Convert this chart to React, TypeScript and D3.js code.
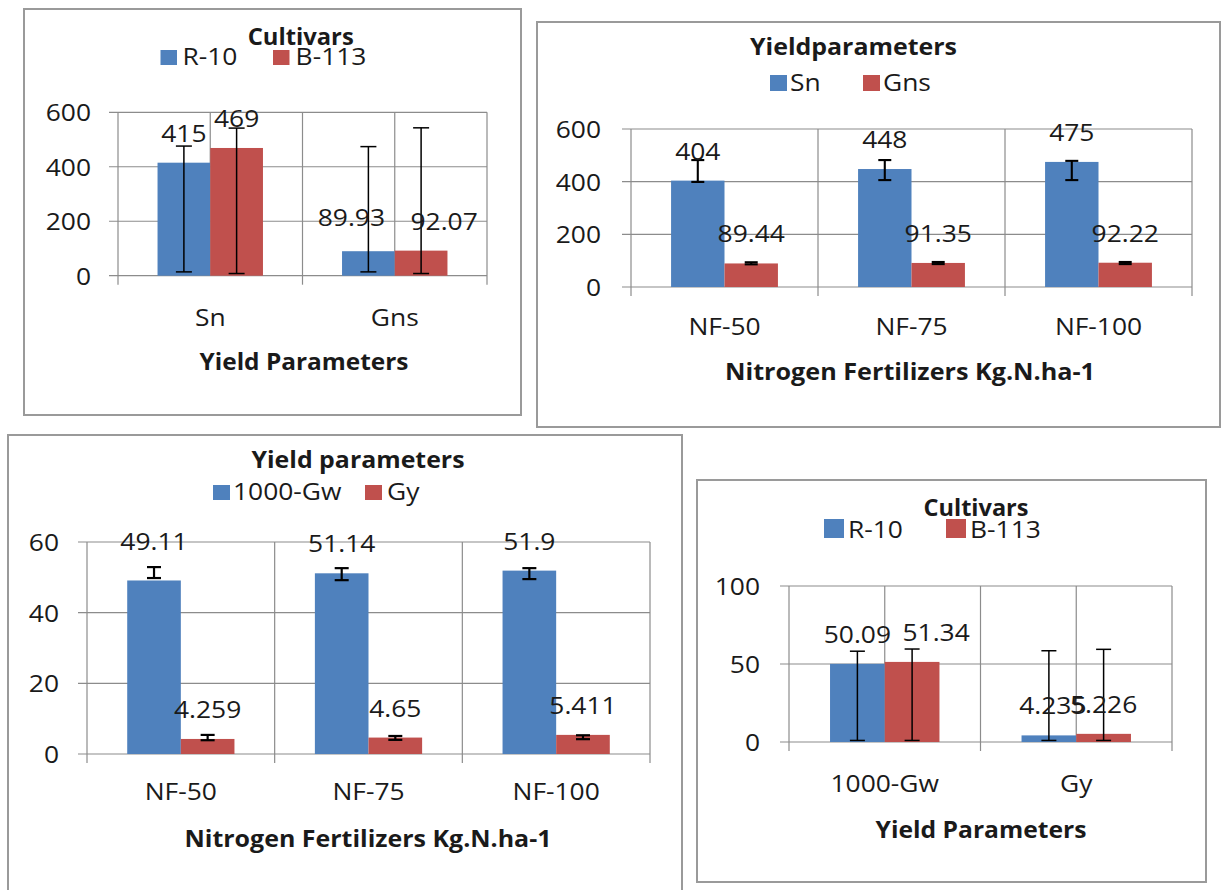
import React from "react";
import * as d3 from "d3";

// ---------- DATA ----------
const cultivars = ["R-10", "B-113"];

// Panel 1: Cultivars x Yield parameters (Sn, Gns)
const p1Categories = ["Sn", "Gns"];
const p1R10 = [415, 89.93];
const p1B113 = [469, 92.07];
const p1R10ErrLow = [14, 14];
const p1R10ErrHigh = [476, 474];
const p1B113ErrLow = [8, 8];
const p1B113ErrHigh = [542, 543];
const p1Ticks = [0, 200, 400, 600];

// Panel 2: Nitrogen fertilizers x (Sn, Gns)
const nfCategories = ["NF-50", "NF-75", "NF-100"];
const p2Series = ["Sn", "Gns"];
const p2Sn = [404, 448, 475];
const p2Gns = [89.44, 91.35, 92.22];
const p2SnErrLow = [399, 406, 406];
const p2SnErrHigh = [482, 482, 479];
const p2GnsErrLow = [86, 87, 87];
const p2GnsErrHigh = [94, 95, 95];
const p2Ticks = [0, 200, 400, 600];

// Panel 3: Nitrogen fertilizers x (1000-Gw, Gy)
const p3Series = ["1000-Gw", "Gy"];
const p3Gw = [49.11, 51.14, 51.9];
const p3Gy = [4.259, 4.65, 5.411];
const p3GwErrLow = [49.8, 49.2, 49.5];
const p3GwErrHigh = [52.9, 52.6, 52.6];
const p3GyErrLow = [3.9, 4.0, 4.2];
const p3GyErrHigh = [5.4, 5.1, 5.3];
const p3Ticks = [0, 20, 40, 60];

// Panel 4: Cultivars x (1000-Gw, Gy)
const p4Categories = ["1000-Gw", "Gy"];
const p4R10 = [50.09, 4.235];
const p4B113 = [51.34, 5.226];
const p4R10ErrLow = [1, 1];
const p4R10ErrHigh = [58.2, 58.5];
const p4B113ErrLow = [1, 1];
const p4B113ErrHigh = [59.6, 59.4];
const p4Ticks = [0, 50, 100];

// ---------- STYLE ----------
const COLORS = ["#4F81BD", "#C0504D"];
const FONT = "'Open Sans', 'DejaVu Sans', sans-serif";
const FS = 24;
const SX = 1.1;
const TXT = "#1a1a1a";
const GRID = "#8c8c8c";

type Cfg = {
  box: [number, number, number, number];
  x0: number; x1: number; yTop: number; yBot: number;
  title: { text: string; x: number; y: number; w: number };
  legend: { y: number; sqW: number; sqH: number; sqX: number[]; tx: number[] };
  tickLabelX: number;
  catLabelY: number;
  axisTitle: { text: string; x: number; y: number; w: number };
  centerLines: boolean;
  errStroke: number;
  capW: number;
  nudge?: Record<string, [number, number]>;
};

function T(props: { x: number; y: number; anchor?: string; children: any; sx?: number }) {
  const { x, y, anchor = "middle", children, sx = SX } = props;
  return (
    <text
      transform={`translate(${x},${y}) scale(${sx},1)`}
      textAnchor={anchor}
      fontFamily={FONT}
      fontSize={FS}
      fill={TXT}
    >
      {children}
    </text>
  );
}

function B(props: { x: number; y: number; w: number; children: any }) {
  return (
    <text
      x={props.x}
      y={props.y}
      textAnchor="middle"
      textLength={props.w}
      lengthAdjust="spacingAndGlyphs"
      fontFamily={FONT}
      fontWeight={700}
      fontSize={FS}
      fill={TXT}
    >
      {props.children}
    </text>
  );
}

function Panel(props: {
  cfg: Cfg;
  categories: string[];
  series: string[];
  values: number[][];
  errLow: number[][];
  errHigh: number[][];
  ticks: number[];
}) {
  const { cfg, categories, series, values, errLow, errHigh, ticks } = props;
  const xc = d3.scaleBand().domain(categories).range([cfg.x0, cfg.x1]).padding(0);
  const xs = d3
    .scaleBand()
    .domain(series)
    .range([0, xc.bandwidth()])
    .paddingInner(0)
    .paddingOuter(0.75);
  const y = d3
    .scaleLinear()
    .domain([0, ticks[ticks.length - 1]])
    .range([cfg.yBot, cfg.yTop]);
  const bounds = categories.map((c) => xc(c)!).concat([cfg.x1]);
  const [bx0, by0, bx1, by1] = cfg.box;
  const tk = 9;

  return (
    <g>
      <rect
        x={bx0}
        y={by0}
        width={bx1 - bx0}
        height={by1 - by0}
        fill="#fff"
        stroke="#9a9a9a"
        strokeWidth={2}
      />
      {/* horizontal gridlines */}
      {ticks.map((t) => (
        <line key={"h" + t} x1={cfg.x0 - tk} x2={cfg.x1} y1={y(t)} y2={y(t)} stroke={GRID} strokeWidth={1.2} />
      ))}
      {/* vertical gridlines at category boundaries */}
      {bounds.map((bx, i) => (
        <line key={"v" + i} x1={bx} x2={bx} y1={cfg.yTop} y2={cfg.yBot + tk} stroke={GRID} strokeWidth={1.2} />
      ))}
      {cfg.centerLines &&
        categories.map((c) => (
          <line
            key={"cl" + c}
            x1={xc(c)! + xc.bandwidth() / 2}
            x2={xc(c)! + xc.bandwidth() / 2}
            y1={cfg.yTop}
            y2={cfg.yBot}
            stroke={GRID}
            strokeWidth={1.2}
          />
        ))}
      {/* bars */}
      {series.map((s, si) =>
        categories.map((c, ci) => {
          const v = values[si][ci];
          return (
            <rect
              key={"b" + s + c}
              x={xc(c)! + xs(s)!}
              y={y(v)}
              width={xs.bandwidth()}
              height={y(0) - y(v)}
              fill={COLORS[si]}
            />
          );
        })
      )}
      {/* error bars */}
      {series.map((s, si) =>
        categories.map((c, ci) => {
          const cx = xc(c)! + xs(s)! + xs.bandwidth() / 2;
          const lo = y(errLow[si][ci]);
          const hi = y(errHigh[si][ci]);
          const h = cfg.capW / 2;
          return (
            <g key={"e" + s + c} stroke="#000" strokeWidth={cfg.errStroke}>
              <line x1={cx} x2={cx} y1={lo} y2={hi} />
              <line x1={cx - h} x2={cx + h} y1={lo} y2={lo} />
              <line x1={cx - h} x2={cx + h} y1={hi} y2={hi} />
            </g>
          );
        })
      )}
      {/* data labels */}
      {series.map((s, si) =>
        categories.map((c, ci) => {
          const v = values[si][ci];
          const n = (cfg.nudge && cfg.nudge[si + "-" + ci]) || [0, 0];
          return (
            <T key={"l" + s + c} x={xc(c)! + xs(s)! + xs.bandwidth() / 2 + n[0]} y={y(v) - 21 + n[1]}>
              {String(v)}
            </T>
          );
        })
      )}
      {/* y tick labels */}
      {ticks.map((t) => (
        <T key={"yt" + t} x={cfg.tickLabelX} y={y(t) + 9} anchor="end">
          {String(t)}
        </T>
      ))}
      {/* category labels */}
      {categories.map((c) => (
        <T key={"cat" + c} x={xc(c)! + xc.bandwidth() / 2} y={cfg.catLabelY}>
          {c}
        </T>
      ))}
      {/* axis title */}
      <B x={cfg.axisTitle.x} y={cfg.axisTitle.y} w={cfg.axisTitle.w}>
        {cfg.axisTitle.text}
      </B>
      {/* legend */}
      {series.map((s, si) => (
        <g key={"lg" + s}>
          <rect
            x={cfg.legend.sqX[si]}
            y={cfg.legend.y - cfg.legend.sqH}
            width={cfg.legend.sqW}
            height={cfg.legend.sqH}
            fill={COLORS[si]}
          />
          <T x={cfg.legend.tx[si]} y={cfg.legend.y} anchor="start">
            {s}
          </T>
        </g>
      ))}
      {/* title */}
      <B x={cfg.title.x} y={cfg.title.y} w={cfg.title.w}>
        {cfg.title.text}
      </B>
    </g>
  );
}

const cfg1: Cfg = {
  box: [24, 9, 521, 415],
  x0: 118, x1: 487, yTop: 112.3, yBot: 275.7,
  title: { text: "Cultivars", x: 300.7, y: 45, w: 106 },
  legend: { y: 65, sqW: 16.5, sqH: 15, sqX: [160.5, 273], tx: [182.4, 295.6] },
  tickLabelX: 91,
  catLabelY: 326,
  axisTitle: { text: "Yield Parameters", x: 304, y: 370, w: 209 },
  centerLines: true,
  errStroke: 1.5,
  capW: 16,
  nudge: { "0-1": [-17, -4], "1-1": [23, 0] },
};

const cfg2: Cfg = {
  box: [537, 22, 1220, 427],
  x0: 631, x1: 1192, yTop: 129, yBot: 287,
  title: { text: "Yieldparameters", x: 853.5, y: 55, w: 207 },
  legend: { y: 91, sqW: 17, sqH: 16, sqX: [770, 863], tx: [790, 883] },
  tickLabelX: 601,
  catLabelY: 335,
  axisTitle: { text: "Nitrogen Fertilizers Kg.N.ha-1", x: 910, y: 380, w: 370 },
  centerLines: false,
  errStroke: 2.1,
  capW: 13,
};

const cfg3: Cfg = {
  box: [8, 435, 682, 900],
  x0: 87, x1: 650, yTop: 542, yBot: 754,
  title: { text: "Yield parameters", x: 358, y: 468, w: 213 },
  legend: { y: 500, sqW: 17, sqH: 15, sqX: [213, 365], tx: [233, 387] },
  tickLabelX: 59,
  catLabelY: 800,
  axisTitle: { text: "Nitrogen Fertilizers Kg.N.ha-1", x: 368, y: 847, w: 367 },
  centerLines: false,
  errStroke: 2.2,
  capW: 14,
  nudge: { "0-0": [0, -9] },
};

const cfg4: Cfg = {
  box: [697, 480, 1206, 882],
  x0: 789, x1: 1172, yTop: 586, yBot: 742,
  title: { text: "Cultivars", x: 976, y: 516, w: 105 },
  legend: { y: 538, sqW: 20, sqH: 19, sqX: [824, 946], tx: [848, 970] },
  tickLabelX: 760,
  catLabelY: 792,
  axisTitle: { text: "Yield Parameters", x: 981, y: 838, w: 211 },
  centerLines: true,
  errStroke: 1.5,
  capW: 15,
  nudge: { "1-0": [24, 0], "0-1": [4, 0] },
};

export default function App() {
  return (
    <svg
      width={1224}
      height={890}
      style={{ position: "absolute", left: 0, top: 0, background: "#fff" }}
    >
      <rect x={0} y={0} width={1224} height={890} fill="#fff" />
      <Panel
        cfg={cfg1}
        categories={p1Categories}
        series={cultivars}
        values={[p1R10, p1B113]}
        errLow={[p1R10ErrLow, p1B113ErrLow]}
        errHigh={[p1R10ErrHigh, p1B113ErrHigh]}
        ticks={p1Ticks}
      />
      <Panel
        cfg={cfg2}
        categories={nfCategories}
        series={p2Series}
        values={[p2Sn, p2Gns]}
        errLow={[p2SnErrLow, p2GnsErrLow]}
        errHigh={[p2SnErrHigh, p2GnsErrHigh]}
        ticks={p2Ticks}
      />
      <Panel
        cfg={cfg3}
        categories={nfCategories}
        series={p3Series}
        values={[p3Gw, p3Gy]}
        errLow={[p3GwErrLow, p3GyErrLow]}
        errHigh={[p3GwErrHigh, p3GyErrHigh]}
        ticks={p3Ticks}
      />
      <Panel
        cfg={cfg4}
        categories={p4Categories}
        series={cultivars}
        values={[p4R10, p4B113]}
        errLow={[p4R10ErrLow, p4B113ErrLow]}
        errHigh={[p4R10ErrHigh, p4B113ErrHigh]}
        ticks={p4Ticks}
      />
    </svg>
  );
}
